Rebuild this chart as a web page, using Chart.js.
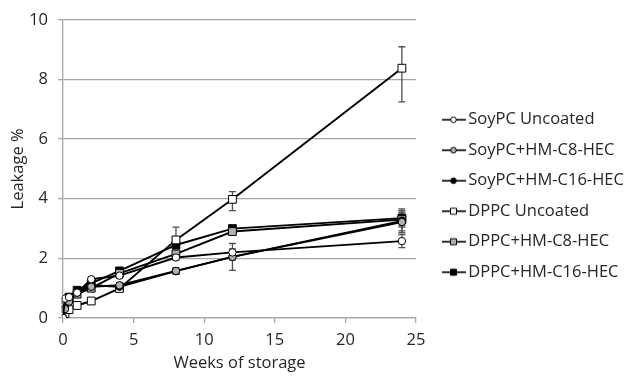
<!DOCTYPE html>
<html><head><meta charset="utf-8">
<script src="https://cdn.jsdelivr.net/npm/chart.js@4/dist/chart.umd.min.js"></script>
<style>html,body{margin:0;padding:0;background:#fff}</style>
</head><body>
<canvas id="c" width="629" height="376"></canvas>
<script>
// ---- data ----
const weeks = [0, 0.14, 0.43, 1, 2, 4, 8, 12, 24];
const seriesNames = ['SoyPC Uncoated', 'SoyPC+HM-C8-HEC', 'SoyPC+HM-C16-HEC', 'DPPC Uncoated', 'DPPC+HM-C8-HEC', 'DPPC+HM-C16-HEC'];
const soyUncoated  = [0, 0.65, 0.70, 0.85, 1.30, 1.42, 2.03, 2.20, 2.58];
const soyC8        = [0, 0.30, 0.55, 0.85, 1.05, 1.10, 1.58, 2.05, 3.22];
const soyC16       = [0, 0.35, 0.60, 0.90, 1.10, 1.05, 1.57, 2.05, 3.26];
const dppcUncoated = [0, 0.15, 0.28, 0.42, 0.57, 0.99, 2.62, 3.98, 8.38];
const dppcC8       = [0, 0.45, 0.65, 0.80, 1.00, 1.50, 2.15, 2.90, 3.30];
const dppcC16      = [0, 0.60, 0.70, 0.93, 1.16, 1.58, 2.45, 3.00, 3.35];
// error bars as [minus, plus]
const soyUncoatedErr  = [[0,0],[0.05,0.05],[0.05,0.05],[0.05,0.05],[0.05,0.05],[0.08,0.08],[0.1,0.1],[0.12,0.12],[0.22,0.22]];
const soyC8Err        = [[0,0],[0.05,0.05],[0.05,0.05],[0.05,0.05],[0.05,0.05],[0.08,0.08],[0.1,0.1],[0.1,0.1],[0.3,0.3]];
const soyC16Err       = [[0,0],[0.05,0.05],[0.05,0.05],[0.05,0.05],[0.05,0.05],[0.08,0.08],[0.1,0.1],[0.45,0.45],[0.4,0.4]];
const dppcUncoatedErr = [[0,0],[0.05,0.05],[0.05,0.05],[0.05,0.05],[0.05,0.05],[0.08,0.08],[0.3,0.43],[0.38,0.26],[1.13,0.72]];
const dppcC8Err       = [[0,0],[0.05,0.05],[0.05,0.05],[0.05,0.05],[0.05,0.05],[0.08,0.08],[0.1,0.1],[0.1,0.1],[0.25,0.25]];
const dppcC16Err      = [[0,0],[0.05,0.05],[0.05,0.05],[0.05,0.05],[0.05,0.05],[0.08,0.08],[0.1,0.1],[0.1,0.1],[0.25,0.25]];
const xTicks = [0, 5, 10, 15, 20, 25];
const yTicks = [0, 2, 4, 6, 8, 10];

// ---- styles ----
const FONT = '"Open Sans", Lato, sans-serif';
const FSIZE = 16.5;
const TEXT = '#262626';
const GRID = '#a6a6a6';
const values = [soyUncoated, soyC8, soyC16, dppcUncoated, dppcC8, dppcC16];
const errs = [soyUncoatedErr, soyC8Err, soyC16Err, dppcUncoatedErr, dppcC8Err, dppcC16Err];
const shapes = ['circle','circle','circle','rect','rect','rect'];
const fills = ['#ffffff','#b0b0b0','#000000','#ffffff','#b0b0b0','#000000'];

function legendIcon(shape, fill){
  const W = 30, I = W + 12;
  const cv = document.createElement('canvas');
  cv.width = I; cv.height = 12;
  const g = cv.getContext('2d');
  g.strokeStyle = '#000'; g.lineWidth = 1.6;
  g.beginPath(); g.moveTo(W - 12, 6); g.lineTo(I, 6); g.stroke();
  g.fillStyle = fill; g.lineWidth = 1;
  const cx = W - 0.5;
  g.beginPath();
  if (shape === 'circle') g.arc(cx, 6, 2.8, 0, Math.PI*2);
  else g.rect(cx - 3, 3, 6, 6);
  g.fill(); g.stroke();
  return cv;
}

const datasets = seriesNames.map((name, i) => ({
  label: name,
  data: weeks.map((w, j) => ({x: w, y: values[i][j]})),
  showLine: true,
  borderColor: '#000',
  borderWidth: 1.9,
  pointStyle: shapes[i],
  pointRadius: shapes[i] === 'rect' ? 5.5 : 3.7,
  pointBackgroundColor: fills[i],
  pointBorderColor: '#000',
  pointBorderWidth: 1,
  errorBars: errs[i],
  legendIcon: legendIcon(shapes[i], fills[i])
}));

const errorBarPlugin = {
  id: 'errorBars',
  beforeDatasetsDraw(chart){
    const ctx = chart.ctx, xs = chart.scales.x, ys = chart.scales.y;
    ctx.save();
    ctx.strokeStyle = '#505050';
    ctx.lineWidth = 1.3;
    chart.data.datasets.forEach(ds => {
      ds.data.forEach((p, j) => {
        const e = ds.errorBars[j];
        if (!e || (e[0] === 0 && e[1] === 0)) return;
        const px = xs.getPixelForValue(p.x);
        const y1 = ys.getPixelForValue(p.y - e[0]);
        const y2 = ys.getPixelForValue(p.y + e[1]);
        ctx.beginPath();
        ctx.moveTo(px, y1); ctx.lineTo(px, y2);
        ctx.moveTo(px - 3.5, y1); ctx.lineTo(px + 3.5, y1);
        ctx.moveTo(px - 3.5, y2); ctx.lineTo(px + 3.5, y2);
        ctx.stroke();
      });
    });
    ctx.restore();
  }
};

new Chart(document.getElementById('c'), {
  type: 'scatter',
  data: { datasets },
  plugins: [errorBarPlugin],
  options: {
    responsive: false,
    animation: false,
    devicePixelRatio: 1,
    layout: { padding: { top: 16, left: 0, right: 0, bottom: 0 } },
    plugins: {
      tooltip: { enabled: false },
      legend: {
        position: 'right',
        maxWidth: 213,
        labels: {
          usePointStyle: true,
          pointStyleWidth: 30,
          padding: 14,
          color: TEXT,
          font: { family: FONT, size: FSIZE },
          generateLabels(chart){
            return chart.data.datasets.map((ds, i) => ({
              text: ds.label,
              pointStyle: ds.legendIcon,
              fillStyle: '#000', strokeStyle: '#000', lineWidth: 0,
              fontColor: TEXT,
              datasetIndex: i, hidden: false
            }));
          }
        }
      }
    },
    scales: {
      x: {
        type: 'linear', min: 0, max: 25,
        afterBuildTicks(s){ s.ticks = xTicks.map(v => ({value: v})); },
        afterFit(s){ s.height = 58; },
        grid: { drawOnChartArea: false, drawTicks: true, tickLength: 5, color: GRID, lineWidth: 1.3 },
        border: { display: true, color: GRID, width: 1.3 },
        ticks: { color: TEXT, font: { family: FONT, size: FSIZE }, padding: 7 },
        title: { display: true, text: 'Weeks of storage', color: TEXT, font: { family: FONT, size: FSIZE }, padding: { top: 0, bottom: 3 } }
      },
      y: {
        type: 'linear', min: 0, max: 10,
        afterBuildTicks(s){ s.ticks = yTicks.map(v => ({value: v})); },
        afterFit(s){ s.width = 63; },
        grid: { color: GRID, lineWidth: 1.3, tickLength: 5 },
        border: { display: true, color: GRID, width: 1.3 },
        ticks: { color: TEXT, font: { family: FONT, size: FSIZE }, padding: 10 },
        title: { display: true, text: 'Leakage %', color: TEXT, font: { family: FONT, size: FSIZE }, padding: { top: 8, bottom: 0 } }
      }
    }
  }
});
</script>
</body></html>
